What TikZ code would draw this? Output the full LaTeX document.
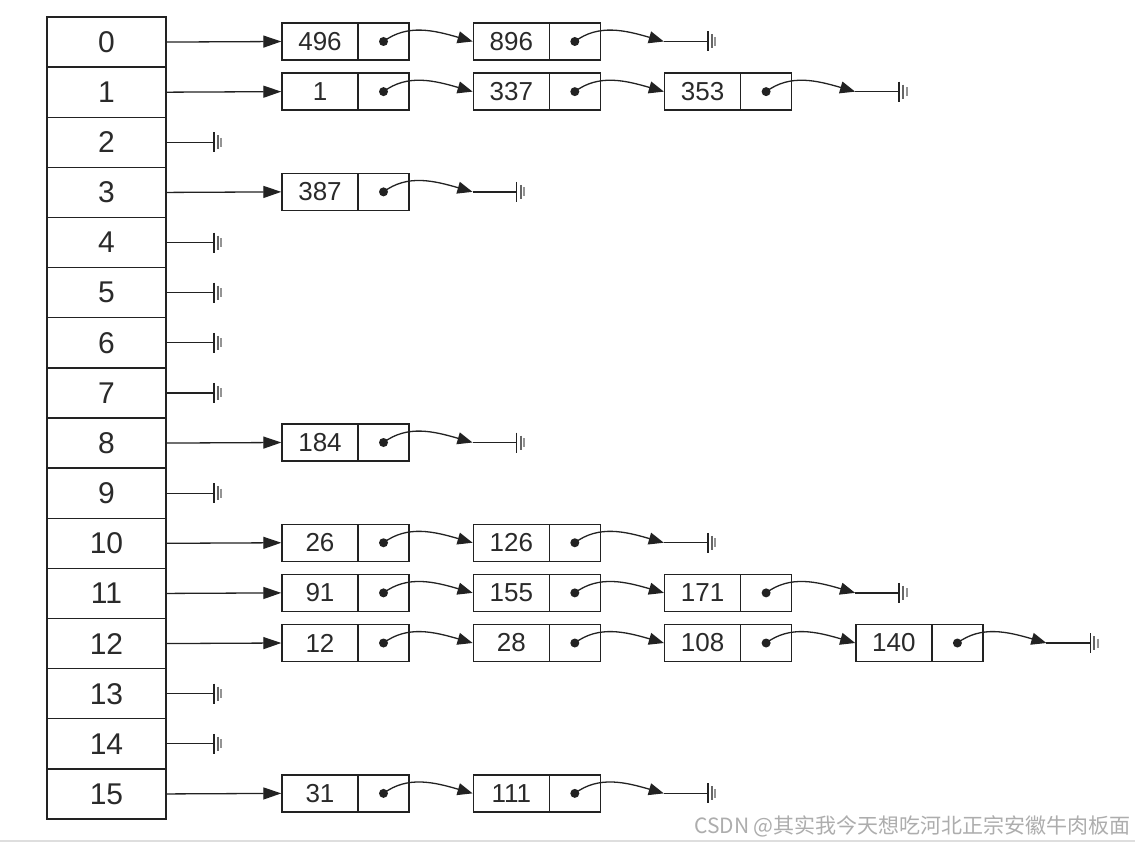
\documentclass[tikz,border=0pt]{standalone}
\usepackage{fontspec}
\setmainfont{Liberation Sans}
\newfontfamily\cjk{Noto Sans CJK SC}
\usetikzlibrary{arrows.meta}
\definecolor{ink}{HTML}{222222}
\definecolor{txt}{HTML}{2A2A2A}
\tikzset{
  cell/.style={draw=ink,line width=1.4pt,minimum width=119pt,minimum height=50.125pt,inner sep=0pt,text=txt,font=\fontsize{30}{30}\selectfont},
  valbox/.style={draw=ink,line width=1.4pt,minimum width=76pt,minimum height=37pt,inner sep=0pt,text=txt,font=\fontsize{26}{26}\selectfont},
  ptrbox/.style={draw=ink,line width=1.4pt,minimum width=51pt,minimum height=37pt,inner sep=0pt},
  link/.style={draw=ink,line width=1.3pt,-{Triangle[length=18pt,width=12pt]}},
  nextlink/.style={draw=ink,line width=1.3pt,-{Triangle[length=15pt,width=12pt]}},
  tail/.style={draw=ink,line width=1.3pt},
  gndsym/.pic={
    \draw[line width=1.8pt,ink] (0,-10) -- (0,10);
    \draw[line width=2pt,black!60] (4,-7) -- (4,7);
    \draw[line width=2pt,black!42] (7.5,-4.5) -- (7.5,4.5);
  }
}
\begin{document}
\begin{tikzpicture}[x=1pt,y=-1pt]
\useasboundingbox[fill=white] (0,0) rectangle (1135,845);
% array
\foreach \i in {0,...,15}{
  \node[cell] (a\i) at (106.5,{42.06+50.125*\i}) {\i};
}
% empty buckets
\foreach \i in {2,4,5,6,7,9,13,14}{
  \coordinate (z\i) at ([xshift=47pt]a\i.east);
  \draw[tail] (a\i.east) -- (z\i);
  \pic at (z\i) {gndsym};
}
% lists
\foreach \r/\n/\vals in {0/2/{496,896},1/3/{1,337,353},3/1/{387},8/1/{184},10/2/{26,126},11/3/{91,155,171},12/4/{12,28,108,140},15/2/{31,111}}{
  \foreach \v [count=\j] in \vals {
    \pgfmathsetmacro\xl{282+191.3*(\j-1)}
    \pgfmathsetmacro\yc{41.5+50.125*\r}
    \node[valbox] (v\r-\j) at ({\xl+38},\yc) {\v};
    \node[ptrbox] (p\r-\j) at ({\xl+76+25.5},\yc) {};
    \fill[ink] (p\r-\j.center) circle[radius=4.5pt];
    \ifnum\j=1
      \draw[link] (a\r.east) -- (v\r-1.west);
    \else
      \pgfmathtruncatemacro\jm{\j-1}
      \draw[nextlink] (p\r-\jm.center) .. controls +(24,-18) and +(-38,-11) .. (v\r-\j.west);
    \fi
    \ifnum\j=\n
      \coordinate (e\r) at ([xshift=89pt]p\r-\j.center);
      \coordinate (g\r) at ([xshift=133pt]p\r-\j.center);
      \draw[nextlink] (p\r-\j.center) .. controls +(24,-18) and +(-38,-11) .. (e\r);
      \draw[tail] (e\r) -- (g\r);
      \pic at (g\r) {gndsym};
    \fi
  }
}
% watermark
\node[anchor=east,inner sep=0pt,text=black!32,font=\cjk\fontsize{21}{21}\selectfont] (wm) at (1131,826) {CSDN @其实我今天想吃河北正宗安徽牛肉板面};
\draw[black!13,line width=1.5pt] (0,841) -- (1135,841);
\end{tikzpicture}
\end{document}
